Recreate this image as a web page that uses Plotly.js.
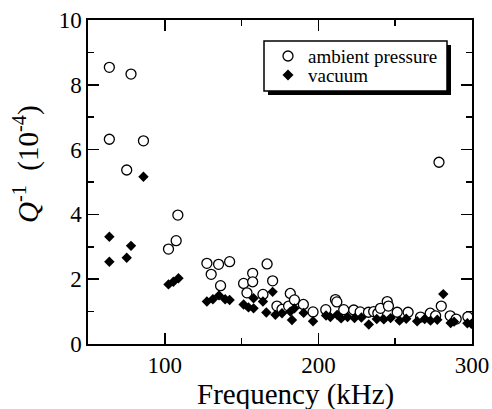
<!DOCTYPE html>
<html>
<head>
<meta charset="utf-8">
<script src="https://cdn.plot.ly/plotly-3.0.1.min.js"></script>
<style>html,body{margin:0;padding:0;background:#fff;}#chart{width:492px;height:409px;}</style>
</head>
<body>
<div id="chart"></div>
<script>
// Ambient pressure (open circles)
const ambientFreq = [63.9, 78.0, 63.9, 86.1, 75.2, 102.4, 107.4, 108.5, 127.4, 130.2, 135.0, 142.2, 136.3,
  151.3, 153.5, 157.2, 157.2, 163.9, 166.6, 170.2, 173.0, 176.3, 180.6, 181.7, 184.4, 190.2, 196.5,
  204.8, 211.1, 212.0, 216.5, 223.0, 227.2, 232.6, 236.0, 238.7, 240.4, 244.8, 245.6, 251.3, 258.4,
  266.5, 272.8, 276.3, 278.5, 280.0, 285.8, 289.7, 297.3];
const ambientQ = [8.54, 8.33, 6.32, 6.27, 5.37, 2.93, 3.19, 3.98, 2.49, 2.15, 2.46, 2.54, 1.80,
  1.87, 1.58, 2.18, 1.92, 1.53, 2.47, 1.95, 1.17, 1.07, 1.17, 1.56, 1.36, 1.22, 0.99,
  1.06, 1.37, 1.30, 1.06, 1.05, 0.99, 0.98, 1.00, 0.95, 1.10, 1.31, 1.17, 0.98, 0.98,
  0.83, 0.95, 0.87, 5.61, 1.17, 0.87, 0.77, 0.84];
// Vacuum (filled diamonds)
const vacuumFreq = [63.9, 78.0, 63.9, 75.2, 86.1, 102.4, 105.6, 108.9, 127.4, 131.3, 135.3, 139.3, 142.2,
  151.3, 154.5, 157.8, 157.8, 163.9, 166.1, 170.2, 172.0, 176.3, 181.7, 182.8, 184.4, 190.4, 196.5,
  205.0, 207.8, 212.2, 214.8, 219.0, 223.5, 228.0, 232.8, 238.0, 242.6, 247.0, 252.8, 257.2,
  264.3, 269.2, 273.0, 277.4, 281.3, 286.1, 288.3, 297.0, 299.6];
const vacuumQ = [3.31, 3.03, 2.54, 2.66, 5.16, 1.84, 1.92, 2.03, 1.31, 1.38, 1.50, 1.38, 1.36,
  1.22, 1.13, 1.41, 1.10, 1.31, 0.97, 1.61, 0.90, 0.95, 1.00, 0.74, 1.10, 0.96, 0.70,
  0.88, 0.83, 0.90, 0.79, 0.83, 0.80, 0.82, 0.60, 0.77, 0.76, 0.80, 0.72, 0.78,
  0.70, 0.77, 0.72, 0.75, 1.54, 0.65, 0.69, 0.64, 0.62];
const seriesNames = ['ambient pressure', 'vacuum'];
const xTitle = 'Frequency (kHz)';
const yTitle = '<i>Q</i><sup>-1</sup>  (10<sup>-4</sup>)';

const FONT = '"Liberation Serif", "Times New Roman", Times, serif';
const W = 492, H = 409, L = 88, R = 20, T = 20, B = 65;
const pw = W - L - R, ph = H - T - B;
const px = v => (v - L) / pw;          // pixel x -> paper
const py = v => (H - B - v) / ph;      // pixel y -> paper

const traces = [
  {x: ambientFreq, y: ambientQ, name: seriesNames[0], type: 'scatter', mode: 'markers',
   marker: {symbol: 'circle', size: 10, color: '#fff', line: {color: '#000', width: 1.3}}},
  {x: vacuumFreq, y: vacuumQ, name: seriesNames[1], type: 'scatter', mode: 'markers',
   marker: {symbol: 'diamond', size: 8, color: '#000', line: {width: 0}}}
];

const axisCommon = {
  showgrid: false, zeroline: false, showline: true, linecolor: '#000', linewidth: 1.6,
  mirror: 'ticks', ticks: 'inside', ticklen: 11, tickwidth: 1.5, tickcolor: '#000',
  tickfont: {family: FONT, size: 23, color: '#000'},
  minor: {ticks: 'inside', ticklen: 6, tickwidth: 1.5, tickcolor: '#000', showgrid: false}
};

// legend key geometry (pixels)
const kx = 288, k1 = 56, k2 = 75, kr = 5, kd = 5.5;
const diamondPath = 'M ' + px(kx) + ' ' + py(k2 - kd) + ' L ' + px(kx + kd) + ' ' + py(k2) +
  ' L ' + px(kx) + ' ' + py(k2 + kd) + ' L ' + px(kx - kd) + ' ' + py(k2) + ' Z';

const layout = {
  width: W, height: H,
  margin: {l: L, r: R, t: T, b: B},
  paper_bgcolor: '#fff', plot_bgcolor: 'rgba(0,0,0,0)',
  showlegend: false,
  xaxis: Object.assign({}, axisCommon, {range: [50, 300], tickmode: 'linear', tick0: 0, dtick: 100,
    minor: Object.assign({}, axisCommon.minor, {dtick: 50})}),
  yaxis: Object.assign({}, axisCommon, {range: [0, 10], tickmode: 'linear', tick0: 0, dtick: 2,
    minor: Object.assign({}, axisCommon.minor, {dtick: 1})}),
  shapes: [
    {type: 'rect', xref: 'paper', yref: 'paper', x0: px(268), x1: px(451), y0: py(95), y1: py(45),
     fillcolor: '#000', line: {color: '#000', width: 0}, layer: 'above'},
    {type: 'rect', xref: 'paper', yref: 'paper', x0: px(264), x1: px(447), y0: py(91), y1: py(41),
     fillcolor: '#fff', line: {color: '#000', width: 1.5}, layer: 'above'},
    {type: 'circle', xref: 'paper', yref: 'paper', x0: px(kx - kr), x1: px(kx + kr), y0: py(k1 + kr), y1: py(k1 - kr),
     fillcolor: '#fff', line: {color: '#000', width: 1.3}, layer: 'above'},
    {type: 'path', xref: 'paper', yref: 'paper', path: diamondPath,
     fillcolor: '#000', line: {color: '#000', width: 0}, layer: 'above'}
  ],
  annotations: [
    {text: seriesNames[0], xref: 'paper', yref: 'paper', x: px(306), y: py(k1), xanchor: 'left', yanchor: 'middle',
     showarrow: false, font: {family: FONT, size: 19, color: '#000'}},
    {text: seriesNames[1], xref: 'paper', yref: 'paper', x: px(306), y: py(k2), xanchor: 'left', yanchor: 'middle',
     showarrow: false, font: {family: FONT, size: 19, color: '#000'}},
    {text: xTitle, xref: 'paper', yref: 'paper', x: px(295), y: py(394), xanchor: 'center', yanchor: 'middle',
     showarrow: false, font: {family: FONT, size: 29, color: '#000'}},
    {text: yTitle, xref: 'paper', yref: 'paper', x: px(26), y: py(164), xanchor: 'center', yanchor: 'middle',
     textangle: -90, showarrow: false, font: {family: FONT, size: 29, color: '#000'}}
  ]
};

Plotly.newPlot('chart', traces, layout, {staticPlot: true, displayModeBar: false});
</script>
</body>
</html>
